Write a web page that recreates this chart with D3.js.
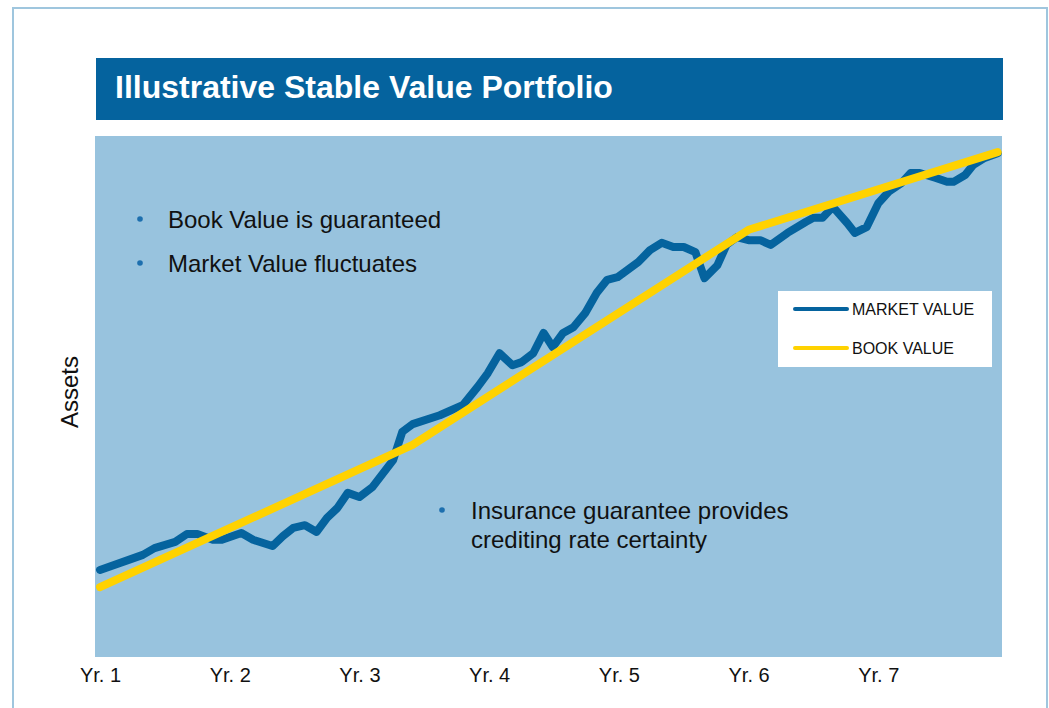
<!DOCTYPE html>
<html>
<head>
<meta charset="utf-8">
<script src="https://cdn.jsdelivr.net/npm/d3@7"></script>
<style>
  body { margin: 0; background: #fff; }
  text { font-family: "Liberation Sans", Arial, sans-serif; }
</style>
</head>
<body>
<div id="chart"></div>
<script>
// time in years since start (Yr. 1 = 1), asset values in arbitrary units
const marketTimes = [1.00, 1.33, 1.42, 1.58, 1.67, 1.75, 1.87, 1.94, 2.09, 2.18, 2.33, 2.41, 2.49, 2.58, 2.67, 2.75,
  2.83, 2.91, 3.00, 3.10, 3.26, 3.33, 3.41, 3.62, 3.80, 3.91, 3.99, 4.08, 4.18, 4.25, 4.34, 4.42, 4.49, 4.57,
  4.65, 4.74, 4.83, 4.91, 4.99, 5.15, 5.24, 5.33, 5.42, 5.50, 5.59, 5.66, 5.76, 5.83, 5.91, 6.00, 6.09, 6.17,
  6.30, 6.44, 6.50, 6.57, 6.65, 6.76, 6.82, 6.91, 7.00, 7.08, 7.18, 7.25, 7.32, 7.45, 7.53, 7.58, 7.67, 7.73,
  7.82, 7.92];
const marketValues = [16.7, 19.6, 20.9, 22.1, 23.6, 23.6, 22.5, 22.5, 23.8, 22.5, 21.3, 23.2, 24.8, 25.3, 24.0, 26.7,
  28.6, 31.5, 30.7, 32.6, 37.8, 43.2, 44.7, 46.4, 48.4, 51.8, 54.5, 58.3, 56.0, 56.6, 58.3, 62.2, 59.5, 62.2,
  63.3, 66.0, 69.9, 72.4, 72.9, 75.8, 78.1, 79.5, 78.7, 78.7, 77.7, 72.7, 75.2, 79.1, 80.6, 80.0, 80.0, 79.1,
  81.4, 83.5, 84.3, 84.3, 86.4, 83.3, 81.4, 82.5, 87.1, 89.3, 91.0, 92.9, 92.9, 91.9, 91.2, 91.2, 92.5, 94.4,
  95.8, 96.7];
const bookTimes = [1.00, 3.41, 6.00, 7.92];
const bookValues = [13.4, 40.7, 82.0, 96.9];
const yearTicks = [1, 2, 3, 4, 5, 6, 7];
const seriesNames = ["MARKET VALUE", "BOOK VALUE"];
const topNotes = ["Book Value is guaranteed", "Market Value fluctuates"];
const bottomNote = ["Insurance guarantee provides", "crediting rate certainty"];

const W = 1049, H = 708;
const BLUE = "#05639e", YELLOW = "#ffd200", PLOTBG = "#98c3de";
const plot = { left: 95, right: 1002, top: 136, bottom: 657 };

const svg = d3.select("#chart").append("svg")
  .attr("width", W).attr("height", H);

// outer frame
svg.append("rect")
  .attr("x", 13).attr("y", 8).attr("width", 1034).attr("height", 720)
  .attr("fill", "none").attr("stroke", "#9fc6de").attr("stroke-width", 2);

// title bar
svg.append("rect")
  .attr("x", 96).attr("y", 58).attr("width", 907).attr("height", 62)
  .attr("fill", BLUE);
svg.append("text")
  .attr("x", 115).attr("y", 98)
  .attr("fill", "#fff").attr("font-size", 32).attr("font-weight", "bold")
  .text("Illustrative Stable Value Portfolio");

// plot background
svg.append("rect")
  .attr("x", plot.left).attr("y", plot.top)
  .attr("width", plot.right - plot.left).attr("height", plot.bottom - plot.top)
  .attr("fill", PLOTBG);

const x = d3.scaleLinear().domain([1, 8]).range([100, 1008]);
const y = d3.scaleLinear().domain([0, 100]).range([plot.bottom, plot.top]);

const xAxis = svg.append("g")
  .attr("transform", `translate(0,${plot.bottom})`)
  .call(d3.axisBottom(x).tickValues(yearTicks).tickSize(0).tickPadding(25)
    .tickFormat(d => "Yr. " + d));
xAxis.select(".domain").remove();
xAxis.selectAll("text")
  .attr("font-family", "Liberation Sans, Arial, sans-serif")
  .attr("font-size", 20).attr("fill", "#111").attr("dy", 0);

svg.append("text")
  .attr("transform", "translate(78,392) rotate(-90)")
  .attr("text-anchor", "middle").attr("font-size", 24).attr("fill", "#111")
  .text("Assets");

const line = d3.line().x(d => x(d[0])).y(d => y(d[1]));
const marketData = marketTimes.map((t, i) => [t, marketValues[i]]);
const bookData = bookTimes.map((t, i) => [t, bookValues[i]]);

svg.append("path").datum(marketData)
  .attr("d", line).attr("fill", "none")
  .attr("stroke", BLUE).attr("stroke-width", 8)
  .attr("stroke-linejoin", "round").attr("stroke-linecap", "round");
svg.append("path").datum(bookData)
  .attr("d", line).attr("fill", "none")
  .attr("stroke", YELLOW).attr("stroke-width", 8)
  .attr("stroke-linejoin", "round").attr("stroke-linecap", "round");

// notes
function bullet(bx, by) {
  svg.append("circle").attr("cx", bx).attr("cy", by).attr("r", 2.8).attr("fill", "#1d6fae");
}
topNotes.forEach((t, i) => {
  bullet(140, 219 + i * 44);
  svg.append("text").attr("x", 168).attr("y", 228 + i * 44)
    .attr("font-size", 24).attr("fill", "#111").text(t);
});
bullet(442, 510);
bottomNote.forEach((t, i) => {
  svg.append("text").attr("x", 471).attr("y", 519 + i * 29)
    .attr("font-size", 24).attr("fill", "#111").text(t);
});

// legend
const lg = svg.append("g");
lg.append("rect").attr("x", 778).attr("y", 291).attr("width", 214).attr("height", 76).attr("fill", "#fff");
[BLUE, YELLOW].forEach((c, i) => {
  const ly = 309 + i * 39;
  lg.append("line").attr("x1", 795).attr("x2", 847).attr("y1", ly).attr("y2", ly)
    .attr("stroke", c).attr("stroke-width", 4).attr("stroke-linecap", "round");
  lg.append("text").attr("x", 852).attr("y", ly + 6)
    .attr("font-size", 16).attr("fill", "#111").text(seriesNames[i]);
});
</script>
</body>
</html>
